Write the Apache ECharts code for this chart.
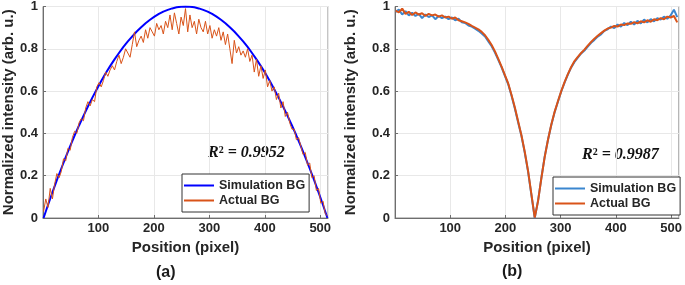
<!DOCTYPE html>
<html>
<head>
<meta charset="utf-8">
<script src="https://cdn.jsdelivr.net/npm/echarts@6/dist/echarts.min.js"></script>
<style>
  html, body { margin: 0; background: #fff; }
  #chart { width: 685px; height: 285px; }
</style>
</head>
<body>
<div id="chart"></div>
<script>
// panel (a) simulation, every 8 px starting at 1
const simA = [
  0, 0.0615, 0.121, 0.179, 0.234, 0.288, 0.340, 0.390, 0.4375, 0.483, 0.527, 0.569, 0.609, 0.6475, 0.684, 0.718,
  0.75, 0.780, 0.809, 0.835, 0.859, 0.882, 0.902, 0.921, 0.9375, 0.952, 0.965, 0.976, 0.984, 0.991, 0.996, 0.999,
  1,
  0.999, 0.996, 0.991, 0.984, 0.976, 0.965, 0.952, 0.9375, 0.921, 0.902, 0.882, 0.859, 0.835, 0.809, 0.780,
  0.75, 0.718, 0.684, 0.6475, 0.609, 0.569, 0.527, 0.483, 0.4375, 0.390, 0.340, 0.288, 0.234, 0.179, 0.121, 0.0615,
  0
]
// panel (a) actual, every 4 px starting at 1
const actA = [
  0.03, 0.09, 0.05, 0.14, 0.09, 0.16, 0.21, 0.19, 0.22, 0.28, 0.27, 0.33, 0.32, 0.38, 0.41, 0.40,
  0.45, 0.47, 0.46, 0.52, 0.55, 0.53, 0.56, 0.55, 0.62, 0.64, 0.62, 0.65, 0.69, 0.67, 0.70, 0.72,
  0.70, 0.74, 0.77, 0.73, 0.76, 0.80, 0.78, 0.76, 0.82, 0.88, 0.81, 0.84, 0.86, 0.83, 0.89, 0.85,
  0.90, 0.88, 0.86, 0.92, 0.89, 0.91, 0.87, 0.93, 0.90, 0.96, 0.89, 0.97, 0.92, 0.87, 0.95, 0.91,
  0.99, 0.88, 0.96, 0.90, 0.93, 0.87, 0.94, 0.90, 0.88, 0.93, 0.87, 0.91, 0.85, 0.89, 0.86, 0.90,
  0.84, 0.88, 0.82, 0.87, 0.80, 0.73, 0.84, 0.78, 0.81, 0.77, 0.79, 0.76, 0.80, 0.74, 0.77, 0.69,
  0.75, 0.67, 0.72, 0.66, 0.70, 0.62, 0.65, 0.60, 0.62, 0.56, 0.59, 0.52, 0.55, 0.48, 0.50, 0.45,
  0.42, 0.42, 0.37, 0.38, 0.34, 0.30, 0.31, 0.25, 0.26, 0.19, 0.20, 0.13, 0.14, 0.07, 0.08, 0.02,
  0.01
]
// panel (b), every 6 px starting at 1
const simB = [
  0.975, 0.985, 0.962, 0.978, 0.958, 0.97, 0.955, 0.965, 0.945, 0.962, 0.95, 0.958, 0.94, 0.955, 0.945, 0.952,
  0.94, 0.948, 0.935, 0.942, 0.925, 0.922, 0.91, 0.905, 0.895, 0.885, 0.872, 0.858, 0.835, 0.812, 0.782, 0.748,
  0.712, 0.672, 0.632, 0.578, 0.518, 0.452, 0.388, 0.308, 0.218, 0.108, 0.0, 0.082, 0.19, 0.29, 0.37, 0.44,
  0.5, 0.55, 0.598, 0.64, 0.678, 0.712, 0.738, 0.758, 0.778, 0.792, 0.81, 0.828, 0.842, 0.858, 0.868, 0.885,
  0.892, 0.905, 0.898, 0.915, 0.905, 0.922, 0.912, 0.928, 0.915, 0.932, 0.92, 0.938, 0.925, 0.94, 0.93, 0.945,
  0.938, 0.952, 0.942, 0.958, 0.985, 0.95
]
const actB = [
  0.98, 0.972, 0.99, 0.965, 0.975, 0.96, 0.972, 0.962, 0.968, 0.955, 0.965, 0.958, 0.962, 0.952, 0.958, 0.948,
  0.952, 0.942, 0.948, 0.935, 0.93, 0.925, 0.918, 0.908, 0.9, 0.892, 0.88, 0.864, 0.842, 0.818, 0.788, 0.752,
  0.716, 0.676, 0.636, 0.582, 0.522, 0.456, 0.39, 0.312, 0.222, 0.112, 0.002, 0.08, 0.188, 0.288, 0.37, 0.442,
  0.502, 0.552, 0.6, 0.642, 0.68, 0.714, 0.742, 0.762, 0.78, 0.796, 0.815, 0.832, 0.848, 0.862, 0.874, 0.886,
  0.896, 0.9, 0.908, 0.905, 0.915, 0.912, 0.92, 0.918, 0.926, 0.92, 0.93, 0.925, 0.935, 0.928, 0.94, 0.935,
  0.945, 0.94, 0.952, 0.948, 0.955, 0.925
]
const legendNames = { simA: 'Simulation BG', actA: 'Actual BG', simB: 'Simulation BG', actB: 'Actual BG' }

function toPairs(vals, start, step) {
  return vals.map((v, i) => [start + i * step, v])
}

const fontBold = 'Liberation Sans'
const axisColor = '#6e6e6e'

function xAxis(idx) {
  return {
    type: 'value', gridIndex: idx, min: 0, max: 514, interval: 100,
    name: 'Position (pixel)', nameLocation: 'middle', nameGap: 13,
    nameTextStyle: { fontFamily: fontBold, fontWeight: 'bold', fontSize: 15, color: '#262626' },
    axisLine: { lineStyle: { color: axisColor } },
    axisTick: { inside: true, length: 3, lineStyle: { color: axisColor } },
    axisLabel: {
      margin: 4, fontFamily: fontBold, fontWeight: 'bold', fontSize: 13, color: '#262626',
      formatter: v => (v === 0 ? '' : v)
    },
    splitLine: { show: true, lineStyle: { color: '#e8e8e8' } }
  }
}
function yAxis(idx, gap) {
  return {
    type: 'value', gridIndex: idx, min: 0, max: 1, interval: 0.2,
    name: 'Normalized intensity (arb. u.)', nameLocation: 'middle', nameGap: gap,
    nameTextStyle: { fontFamily: fontBold, fontWeight: 'bold', fontSize: 15, color: '#262626' },
    axisLine: { show: true, lineStyle: { color: axisColor } },
    axisTick: { show: true, inside: true, length: 3, lineStyle: { color: axisColor } },
    axisLabel: { margin: 5, fontFamily: fontBold, fontWeight: 'bold', fontSize: 13, color: '#262626' },
    splitLine: { show: true, lineStyle: { color: '#e8e8e8' } }
  }
}
function legend(left, top, names) {
  return {
    left: left, top: top, orient: 'vertical',
    data: names,
    formatter: n => legendNames[n],
    icon: 'rect',
    itemWidth: 30, itemHeight: 2, itemGap: 2, itemTextGap: 2,
    padding: [5, 4, 5, 2],
    borderColor: '#333', borderWidth: 1, borderRadius: 0,
    backgroundColor: '#fff',
    textStyle: { fontFamily: fontBold, fontWeight: 'bold', fontSize: 12.5, lineHeight: 13, color: '#262626' }
  }
}
function r2(left, top, val) {
  return {
    type: 'text', left: left, top: top,
    style: {
      text: '{r|R}{s|2}{t| = ' + val + '}',
      rich: {
        r: { fontFamily: 'Liberation Serif', fontStyle: 'italic', fontWeight: 'bold', fontSize: 16, fill: '#111' },
        s: { fontFamily: 'Liberation Serif', fontWeight: 'bold', fontSize: 10, fill: '#111', verticalAlign: 'top' },
        t: { fontFamily: 'Liberation Serif', fontStyle: 'italic', fontWeight: 'bold', fontSize: 16, fill: '#111' }
      }
    }
  }
}

const chart = echarts.init(document.getElementById('chart'))
chart.setOption({
  animation: false,
  backgroundColor: '#fff',
  grid: [
    { left: 43, top: 6, width: 285, height: 212, show: true, borderColor: '#8a8a8a', borderWidth: 1 },
    { left: 395, top: 6, width: 284, height: 212, show: true, borderColor: '#8a8a8a', borderWidth: 1 }
  ],
  xAxis: [xAxis(0), xAxis(1)],
  yAxis: [yAxis(0, 26), yAxis(1, 37)],
  legend: [legend(182, 174, ['simA', 'actA']), legend(553, 177, ['simB', 'actB'])],
  graphic: [
    r2(208, 145, '0.9952'),
    r2(582, 147, '0.9987'),
    { type: 'text', left: 156, top: 265, style: { text: '(a)', fontFamily: fontBold, fontWeight: 'bold', fontSize: 16, fill: '#1a1a1a' } },
    { type: 'text', left: 502, top: 264, style: { text: '(b)', fontFamily: fontBold, fontWeight: 'bold', fontSize: 16, fill: '#1a1a1a' } }
  ],
  series: [
    { name: 'simA', type: 'line', xAxisIndex: 0, yAxisIndex: 0, symbol: 'none', z: 2,
      lineStyle: { color: '#0000ff', width: 2 }, itemStyle: { color: '#0000ff' },
      data: toPairs(simA, 1, 8) },
    { name: 'actA', type: 'line', xAxisIndex: 0, yAxisIndex: 0, symbol: 'none', z: 3,
      lineStyle: { color: '#d95319', width: 1 }, itemStyle: { color: '#d95319' },
      data: toPairs(actA, 1, 4) },
    { name: 'simB', type: 'line', xAxisIndex: 1, yAxisIndex: 1, symbol: 'none', z: 2,
      lineStyle: { color: '#3a86cf', width: 2 }, itemStyle: { color: '#3a86cf' },
      data: toPairs(simB, 1, 6) },
    { name: 'actB', type: 'line', xAxisIndex: 1, yAxisIndex: 1, symbol: 'none', z: 3,
      lineStyle: { color: '#d95319', width: 2 }, itemStyle: { color: '#d95319' },
      data: toPairs(actB, 1, 6) }
  ]
})
</script>
</body>
</html>
